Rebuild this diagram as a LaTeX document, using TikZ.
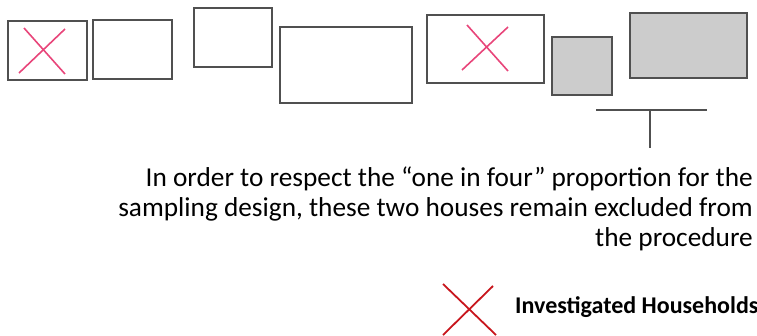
\documentclass[tikz,border=0pt]{standalone}
\usepackage{fontspec}
\setmainfont{Carlito}
\definecolor{boxline}{HTML}{505050}
\definecolor{boxgray}{HTML}{CCCCCC}
\definecolor{pinkx}{HTML}{E8457A}
\definecolor{redx}{HTML}{C8161D}
\begin{document}
\begin{tikzpicture}[x=1pt,y=-1pt,
  house/.style={draw=boxline,line width=2pt,inner sep=0pt,anchor=north west},
  excluded/.style={house,fill=boxgray},
  cross/.style={draw=pinkx,line width=1.6pt},
  legcross/.style={draw=redx,line width=1.8pt},
  bracket/.style={draw=boxline,line width=2pt},
  note/.style={anchor=base east,inner sep=0pt,font=\fontsize{27.3}{30}\selectfont}]
\useasboundingbox (0,0) rectangle (757,335);
\node[house,minimum width=79pt,minimum height=59pt] (h1) at (7,20) {};
\node[house,minimum width=79pt,minimum height=59pt] (h2) at (92,19) {};
\node[house,minimum width=78pt,minimum height=59pt] (h3) at (193,7) {};
\node[house,minimum width=132pt,minimum height=76pt] (h4) at (279,26) {};
\node[house,minimum width=117pt,minimum height=68pt] (h5) at (426,14) {};
\node[excluded,minimum width=60pt,minimum height=58pt] (h6) at (551,36) {};
\node[excluded,minimum width=117pt,minimum height=65pt] (h7) at (629,12) {};
% crosses
\draw[cross] (19,73) -- (65,29);
\draw[cross] (24,28) -- (65,74);
\draw[cross] (462,70) -- (508,27);
\draw[cross] (467,25) -- (508,71);
% bracket
\coordinate (bl) at (596,110);
\coordinate (br) at (707,110);
\coordinate (bm) at (650,110);
\coordinate (bt) at (650,148);
\draw[bracket] (bl) -- (br);
\draw[bracket] (bm) -- (bt);
% text
\node[note] (t1) at (753,186) {In order to respect the “one in four” proportion for the};
\node[note] (t2) at (753,216) {sampling design, these two houses remain excluded from};
\node[note] (t3) at (753,246) {the procedure};
% legend
\draw[legcross] (443,284) -- (496,335);
\draw[legcross] (443,335) -- (493,286);
\node[anchor=base west,inner sep=0pt,font=\fontsize{24}{28}\selectfont\bfseries] (leg) at (515,313) {Investigated Households};
\end{tikzpicture}
\end{document}
